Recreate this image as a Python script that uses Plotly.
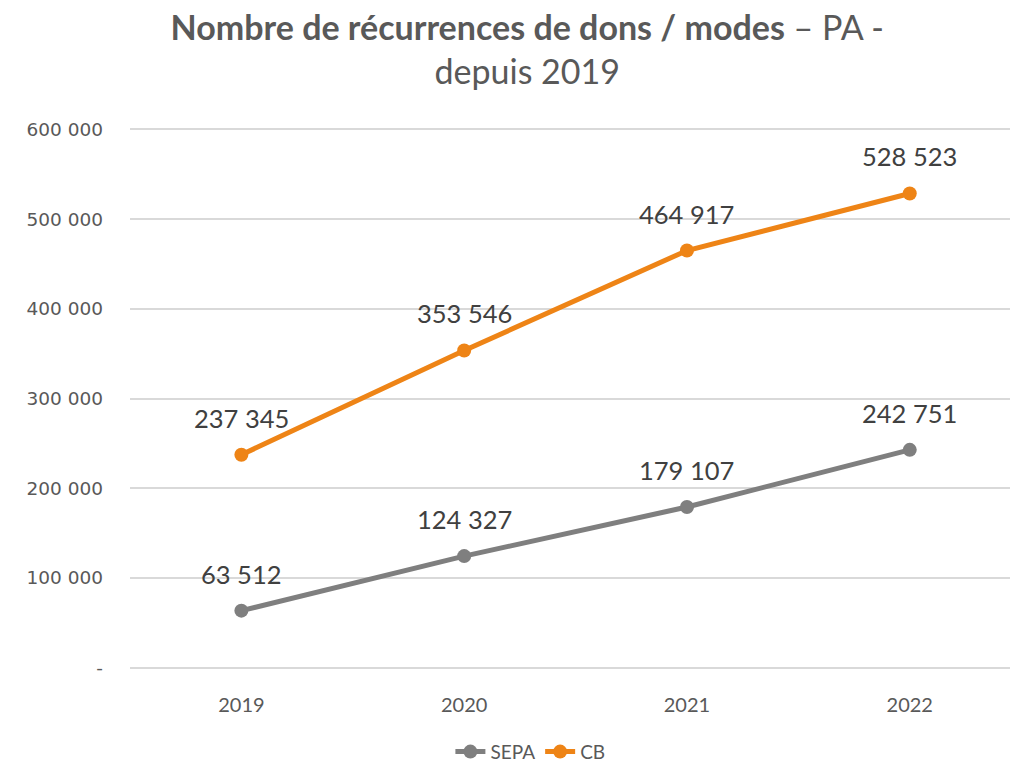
import plotly.graph_objects as go

# Données
annees = ["2019", "2020", "2021", "2022"]
sepa = [63512, 124327, 179107, 242751]
cb = [237345, 353546, 464917, 528523]

tick_vals = [0, 100000, 200000, 300000, 400000, 500000, 600000]
tick_text = ["-", "100 000", "200 000", "300 000", "400 000", "500 000", "600 000"]

GRIS = "#7F7F7F"
ORANGE = "#EE8416"
TEXTE = "#595959"
LABEL = "#404040"
POLICE = "Lato"


def fmt(v):
    return f"{v:,}".replace(",", " ")


fig = go.Figure()
for nom, vals, couleur in [("SEPA", sepa, GRIS), ("CB", cb, ORANGE)]:
    fig.add_trace(go.Scatter(
        x=annees, y=vals, name=nom, mode="lines+markers",
        line=dict(color=couleur, width=5),
        marker=dict(color=couleur, size=14),
        hoverinfo="skip",
    ))
    # étiquettes de valeur (position par indice de catégorie)
    for i, v in enumerate(vals):
        fig.add_annotation(
            x=i, y=v, text=fmt(v), showarrow=False, yshift=37,
            font=dict(family=POLICE, size=25.5, color=LABEL),
        )

fig.update_layout(
    width=1010, height=763,
    paper_bgcolor="white", plot_bgcolor="white",
    margin=dict(l=130, r=0, t=128, b=94, autoexpand=False),
    title=dict(
        text="<b>Nombre de récurrences de dons / modes</b> – PA -<br>depuis 2019",
        x=0.522, xanchor="center", y=0.948, yanchor="middle",
        font=dict(family=POLICE, size=34, color=TEXTE),
    ),
    showlegend=True,
    legend=dict(
        orientation="h", x=0.455, xanchor="center", y=-0.153, yanchor="middle",
        font=dict(family=POLICE, size=19, color=TEXTE),
        traceorder="normal",
    ),
    xaxis=dict(
        type="category", range=[-0.5, 3.45],
        showgrid=False, zeroline=False, showline=False, ticks="",
        tickfont=dict(family=POLICE, size=20, color=TEXTE),
        ticklabelstandoff=22,
    ),
    yaxis=dict(
        range=[-1500, 601500], tickvals=tick_vals, ticktext=tick_text,
        showgrid=True, gridcolor="#D9D9D9", gridwidth=2,
        zeroline=False, showline=False, ticks="",
        tickfont=dict(family="DejaVu Sans", size=18.5, color=TEXTE),
        ticklabelstandoff=26,
    ),
)

fig.write_html("out.html")
